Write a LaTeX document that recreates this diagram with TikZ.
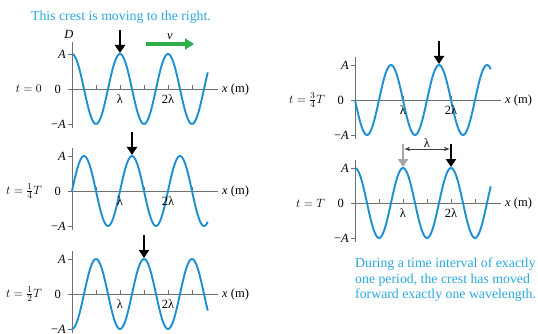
\documentclass[tikz,border=0pt]{standalone}
\usepackage{amsmath}
\usepackage{fontspec}
\setmainfont{Liberation Serif}
\usetikzlibrary{arrows.meta,positioning}
\definecolor{wavecol}{HTML}{1C8ED4}
\definecolor{notecol}{HTML}{2AA7DF}
\definecolor{axiscol}{HTML}{707070}
\definecolor{vcol}{HTML}{2EAF4A}

\begin{document}
\begin{tikzpicture}[x=1pt,y=-1pt,>=Stealth,
  axis/.style={draw=axiscol,line width=0.8pt},
  wave/.style={draw=wavecol,line width=1.9pt},
  crest/.style={line width=2.6pt,shorten >=1pt,-{Triangle[length=8pt,width=10pt]}},
  lbl/.style={font=\fontsize{12.5}{14}\selectfont,inner sep=1pt},
  note/.style={font=\fontsize{13.8}{15.5}\selectfont,text=notecol,align=left,inner sep=0pt}]
  \useasboundingbox (0,0) rectangle (538,334);
  \node[note] (title) at (121,17) {This crest is moving to the right.};
  % five snapshots of D = A cos(kx - wt)
  \foreach \ox/\oy/\ph/\tlab [count=\i] in {72/89/0/{t=0}, 72/191/90/{t=\tfrac{1}{4}T},
      72/294/180/{t=\tfrac{1}{2}T}, 355/100/270/{t=\tfrac{3}{4}T}, 355/203/360/{t=T}} {
    \begin{scope}[shift={(\ox,\oy)}]
      \coordinate (o\i) at (0,0);
      \draw[axis] (-4,0) -- (146,0);
      \draw[axis] (0,-43) -- (0,39);
      \draw[axis] (-4,-35) -- (0,-35) (-4,35) -- (0,35);
      \foreach \k in {0.5,1,...,2.5} \draw[axis] (\k*48,0) -- (\k*48,-4);
      \draw[wave] plot[domain=0:2.83,samples=120,smooth] (\x*48,{-35*cos(360*\x-\ph)});
      \node[lbl,anchor=west] (xm\i) at (149,0) {\textit{x} (m)};
      \node[lbl,anchor=east] (pA\i) at (-5,-35) {\textit{A}};
      \node[lbl,anchor=east] (mA\i) at (-5,35) {−\textit{A}};
      \node[lbl,anchor=east] (z\i) at (-10,0) {0};
      \node[lbl,anchor=east] (t\i) at (-29,0) {$\tlab$};
      \node[lbl,anchor=north] (l\i) at (48,4) {λ};
      \node[lbl,anchor=north] (ll\i) at (96,4) {2λ};
    \end{scope}
  }
  \draw[axis] (o1) -- ++(0,-47);
  \node[lbl] (D) at (69,34) {\textit{D}};
  % crest markers
  \coordinate (c1) at (120,54);
  \coordinate (c2) at (132,156);
  \coordinate (c3) at (144,259);
  \coordinate (c4) at (439,65);
  \coordinate (c5) at (451,168);
  \coordinate (g5) at (403,168);
  \foreach \c in {c1,c2,c3,c4,c5} {
    \coordinate[above=24pt of \c] (\c top);
    \draw[crest] (\c top) -- (\c);
  }
  \coordinate[above=24pt of g5] (g5top);
  \draw[crest,draw=gray!70,fill=gray!70] (g5top) -- (g5);
  \coordinate[above=19pt of g5] (dimL);
  \coordinate[above=19pt of c5] (dimR);
  \draw[<->,draw=black!75,line width=0.6pt,shorten <=1.5pt,shorten >=1.5pt]
    (dimL) -- node[lbl,above=0pt] (lam) {λ} (dimR);
  % wave speed
  \coordinate (v0) at (146,44);
  \coordinate (v1) at (194,44);
  \draw[draw=vcol,line width=3.5pt,-{Triangle[length=9pt,width=11pt]}] (v0) --
    node[lbl,above=2pt] (v) {\textit{v}} (v1);
  \node[note,anchor=north west] (period) at (355,258)
    {During a time interval of exactly\\one period, the crest has moved\\forward exactly one wavelength.};
\end{tikzpicture}
\end{document}
